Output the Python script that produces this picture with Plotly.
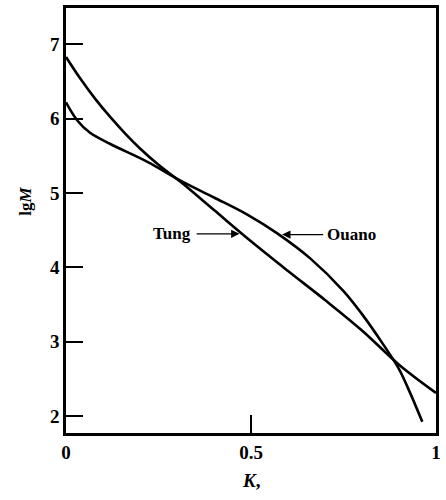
import plotly.graph_objects as go

# Molecular-weight distribution curves: lg M versus K
k_tung = [0.0, 0.04, 0.08, 0.12, 0.16, 0.20, 0.25, 0.312, 0.40, 0.50, 0.60, 0.70, 0.80, 0.90, 1.0]
lgm_tung = [6.83, 6.53, 6.26, 6.02, 5.80, 5.60, 5.38, 5.14, 4.77, 4.35, 3.95, 3.56, 3.15, 2.69, 2.31]

k_ouano = [0.0, 0.03, 0.065, 0.12, 0.22, 0.312, 0.40, 0.49, 0.57, 0.66, 0.75, 0.80, 0.855, 0.90, 0.93, 0.963]
lgm_ouano = [6.22, 5.98, 5.81, 5.66, 5.42, 5.16, 4.94, 4.71, 4.46, 4.12, 3.68, 3.37, 2.98, 2.63, 2.31, 1.92]

x_ticks = [0, 0.5, 1]
x_tick_labels = ["0", "0.5", "1"]
y_ticks = [2, 3, 4, 5, 6, 7]

serif = "Liberation Serif"
line_style = dict(color="black", width=2.6, shape="spline", smoothing=1.0)

fig = go.Figure()
fig.add_trace(go.Scatter(x=k_tung, y=lgm_tung, mode="lines", line=line_style, name="Tung"))
fig.add_trace(go.Scatter(x=k_ouano, y=lgm_ouano, mode="lines", line=line_style, name="Ouano"))

axis_common = dict(
    showline=True, linecolor="black", linewidth=2.5, mirror=True,
    showgrid=False, zeroline=False,
    ticks="inside", tickcolor="black", tickwidth=2,
    tickfont=dict(family=serif, size=19, color="black", weight="bold"),
)

fig.update_xaxes(range=[0, 1], tickvals=x_ticks, ticktext=x_tick_labels, ticklen=18, **axis_common)
fig.update_yaxes(range=[1.77, 7.49], tickvals=y_ticks, ticklen=17, **axis_common)

label_font = dict(family=serif, size=17, color="black", weight="bold")

fig.add_annotation(x=0.469, y=4.45, ax=0.349, ay=4.45, axref="x", ayref="y",
                   text="", showarrow=True, arrowhead=2, arrowsize=1.2, arrowwidth=1.4, arrowcolor="black")
fig.add_annotation(x=0.344, y=4.45, text="Tung", showarrow=False, xanchor="right", font=label_font)

fig.add_annotation(x=0.584, y=4.44, ax=0.699, ay=4.44, axref="x", ayref="y",
                   text="", showarrow=True, arrowhead=2, arrowsize=1.2, arrowwidth=1.4, arrowcolor="black")
fig.add_annotation(x=0.70, y=4.44, text="Ouano", showarrow=False, xanchor="left", font=label_font)

# Axis titles
fig.add_annotation(x=0, xref="paper", y=4.89, yref="y", xshift=-52, textangle=-90,
                   text="<b>lg</b><b><i>M</i></b>", showarrow=False, font=dict(family=serif, size=17, color="black"))
fig.add_annotation(x=0.5, xref="x", y=0, yref="paper", yshift=-60,
                   text="<b><i>K</i></b><b>,</b>", showarrow=False, font=dict(family=serif, size=19, color="black"))

fig.update_layout(
    width=446, height=500,
    margin=dict(l=66, r=5, t=5, b=67),
    paper_bgcolor="white", plot_bgcolor="white",
    showlegend=False,
)

fig.write_html("out.html")
